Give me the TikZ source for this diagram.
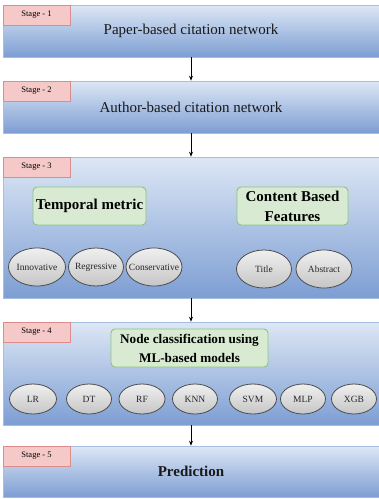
\documentclass[tikz,border=0pt]{standalone}
\usepackage{fontspec}
\setmainfont{Liberation Serif}
\usetikzlibrary{shapes.geometric,arrows.meta}
\definecolor{stagetop}{HTML}{DDE7F5}
\definecolor{stagebot}{HTML}{7D9ED3}
\definecolor{stageline}{HTML}{A8BEE0}
\definecolor{labfill}{HTML}{F6C9C9}
\definecolor{labline}{HTML}{DC8C8C}
\definecolor{grnfill}{HTML}{D8EBD2}
\definecolor{grnline}{HTML}{8CC47A}
\tikzset{
  stagebox/.style={draw=stageline, line width=0.6pt, top color=stagetop, bottom color=stagebot, minimum width=376pt, inner sep=0pt, rectangle, font=\fontsize{15}{17}\selectfont, text=black!90},
  stagelab/.style={draw=labline, line width=0.6pt, fill=labfill, minimum width=67pt, minimum height=20pt, inner sep=0pt, font=\fontsize{8.5}{9}\selectfont},
  grnbox/.style={draw=grnline, line width=0.9pt, fill=grnfill, rounded corners=4pt, align=center, font=\bfseries\fontsize{15}{20}\selectfont, inner sep=0pt},
  oval/.style={ellipse, draw=black!70, line width=0.8pt, top color=gray!12, bottom color=gray!45, inner xsep=-9pt, inner ysep=0pt, font=\fontsize{9.5}{10}\selectfont, text=black!85},
  flow/.style={-{Stealth[length=5pt,width=4pt]}, line width=0.7pt, black}
}
\begin{document}
\begin{tikzpicture}[x=1pt,y=-1pt]
\useasboundingbox (0,0) rectangle (379,499);
% stage boxes
\node[stagebox, minimum height=52pt] (s1) at (191,31) {Paper-based citation network};
\node[stagebox, minimum height=52pt] (s2) at (191,107) {Author-based citation network};
\node[stagebox, minimum height=141pt] (s3) at (191,227.5) {};
\node[stagebox, minimum height=103pt] (s4) at (191,373.5) {};
\node[stagebox, minimum height=51pt, font=\bfseries\fontsize{15}{17}\selectfont] (s5) at (191,471.5) {Prediction};
% labels
\node[stagelab] (l1) at (36.5,15) {Stage - 1};
\node[stagelab] (l2) at (36.5,91) {Stage - 2};
\node[stagelab] (l3) at (36.5,167) {Stage - 3};
\node[stagelab] (l4) at (36.5,332) {Stage - 4};
\node[stagelab] (l5) at (36.5,456) {Stage - 5};
% arrows
\draw[flow] (s1.south) -- (s2.north);
\draw[flow] (s2.south) -- (s3.north);
\draw[flow] (s3.south) -- (s4.north);
\draw[flow] (s4.south) -- (s5.north);
% stage 3 content
\node[grnbox, minimum width=113pt, minimum height=38pt] (tm) at (89.5,206) {Temporal metric};
\node[grnbox, minimum width=111pt, minimum height=38pt] (cb) at (292.5,206) {Content Based\\Features};
\node[oval, minimum width=57pt, minimum height=38pt] (e1) at (37,267) {Innovative};
\node[oval, minimum width=55pt, minimum height=38pt] (e2) at (96,267) {Regressive};
\node[oval, minimum width=56pt, minimum height=38pt] (e3) at (154,267) {Conservative};
\node[oval, minimum width=55pt, minimum height=38pt] (e4) at (264,269) {Title};
\node[oval, minimum width=56pt, minimum height=38pt] (e5) at (324,269) {Abstract};
% stage 4 content
\node[grnbox, minimum width=157pt, minimum height=38pt, font=\bfseries\fontsize{13.2}{19}\selectfont] (nc) at (189.5,348) {Node classification using\\ML-based models};
\node[oval, minimum width=47pt, minimum height=30pt] (m1) at (33,399) {LR};
\node[oval, minimum width=45pt, minimum height=30pt] (m2) at (89,399) {DT};
\node[oval, minimum width=46pt, minimum height=30pt] (m3) at (142,399) {RF};
\node[oval, minimum width=45pt, minimum height=30pt] (m4) at (195,399) {KNN};
\node[oval, minimum width=47pt, minimum height=30pt] (m5) at (253,399) {SVM};
\node[oval, minimum width=45pt, minimum height=30pt] (m6) at (303,399) {MLP};
\node[oval, minimum width=45pt, minimum height=30pt] (m7) at (354,399) {XGB};
\end{tikzpicture}
\end{document}
